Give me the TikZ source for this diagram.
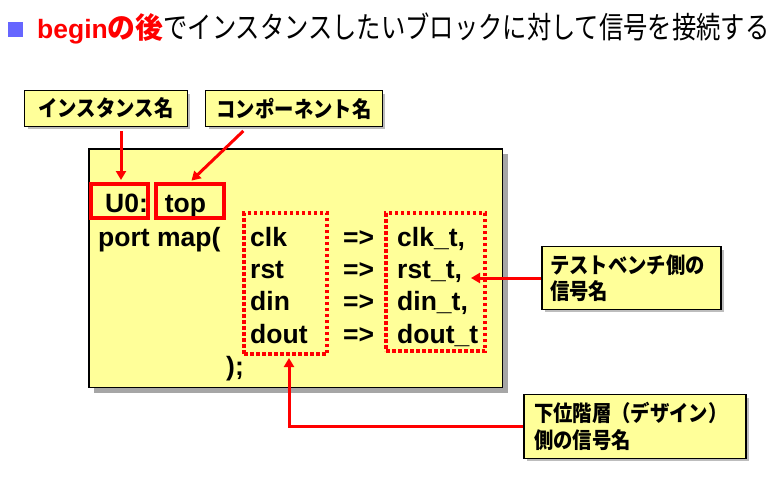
\documentclass[tikz,border=0pt]{standalone}
\usepackage{fontspec}
\usepackage{graphicx}
\usetikzlibrary{arrows.meta,shadows}
\newfontfamily\arial{Liberation Sans}
\newfontfamily\jp{Noto Sans CJK JP}
\newfontfamily\jplbl{Noto Sans CJK JP}[FakeStretch=0.88]
\newfontfamily\jptitle{Noto Sans CJK JP}[FakeStretch=0.81]
\newfontfamily\jpred{Noto Sans CJK JP}[FakeStretch=0.96]
\definecolor{paleyellow}{HTML}{FFFF99}
\definecolor{bulletblue}{HTML}{6666FF}
\definecolor{shadowgray}{HTML}{A6A6A6}
\definecolor{lightshadow}{HTML}{BDBDBD}
\definecolor{mred}{HTML}{FF0000}
\tikzset{
  lblbox/.style={draw=black, line width=1.3pt, fill=paleyellow, inner sep=0pt,
    font=\jplbl\bfseries\fontsize{22}{26.5}\selectfont,
    drop shadow={shadow xshift=3pt, shadow yshift=-3pt, fill=lightshadow, opacity=1}},
  mainbox/.style={draw=black, line width=1.5pt, fill=paleyellow, inner sep=0pt,
    drop shadow={shadow xshift=5.5pt, shadow yshift=-5.5pt, fill=shadowgray, opacity=1}},
  redbox/.style={draw=mred, line width=4pt, inner sep=0pt},
  dotbox/.style={draw=mred, line width=3.5pt, dash pattern=on 3.5pt off 2.5pt, inner sep=0pt},
  codetext/.style={anchor=base west, inner sep=0pt, font=\arial\bfseries\fontsize{26.5}{32}\selectfont},
  redarrow/.style={draw=mred, line width=3pt, -{Triangle[length=9pt,width=10pt]}},
}
\begin{document}
\begin{tikzpicture}[x=1pt,y=-1pt]
\useasboundingbox (0,0) rectangle (778,484);
% title
\node[fill=bulletblue, minimum size=15pt, inner sep=0pt] (bullet) at (15,29.5) {};
\node[anchor=base west, inner sep=0pt] (title) at (37,39)
  {{\color{mred}\arial\bfseries\fontsize{26.5}{32}\selectfont begin}%
   {\color{mred}\jpred\bfseries\fontsize{29}{32}\selectfont の後}%
   {\jptitle\fontsize{30}{32}\selectfont でインスタンスしたいブロックに対して信号を接続する}};
% label boxes
\node[lblbox, minimum width=162.7pt, minimum height=35.7pt] (lbl1) at (106,108.5) {インスタンス名};
\node[lblbox, minimum width=176.7pt, minimum height=35.7pt] (lbl2) at (294,108.5) {コンポーネント名};
% main box
\node[mainbox, minimum width=413.5pt, minimum height=238.5pt] (main) at (295.5,268) {};
% code text
\node[codetext] (u0) at (105,212.7) {U0:};
\node[codetext] (top) at (164.7,212.7) {top};
\node[codetext] (pm) at (98,246) {port map(};
\node[codetext] (s1) at (250,246) {clk};
\node[codetext] (s2) at (250,278.3) {rst};
\node[codetext] (s3) at (250,310.6) {din};
\node[codetext] (s4) at (250,343) {dout};
\node[codetext] (g1) at (343,246) {=>};
\node[codetext] (g2) at (343,278.3) {=>};
\node[codetext] (g3) at (343,310.6) {=>};
\node[codetext] (g4) at (343,343) {=>};
\node[codetext] (t1) at (397,246) {clk\_t,};
\node[codetext] (t2) at (397,278.3) {rst\_t,};
\node[codetext] (t3) at (397,310.6) {din\_t,};
\node[codetext] (t4) at (397,343) {dout\_t};
\node[codetext] (close) at (226,375.5) {);};
% red frames
\node[redbox, minimum width=56.5pt, minimum height=34pt] (u0box) at (119.25,201) {};
\node[redbox, minimum width=68pt, minimum height=34pt] (topbox) at (190,201) {};
\node[dotbox, minimum width=83pt, minimum height=141pt] (dot1) at (285.5,283.5) {};
\node[dotbox, minimum width=99pt, minimum height=138pt] (dot2) at (435.5,282) {};
% right label boxes
\node[lblbox, minimum height=62.7pt, inner xsep=8pt, text width=163pt, align=left] (lbl3) at (631.5,278)
  {テストベンチ側の\\信号名};
\node[lblbox, minimum height=63.7pt, inner xsep=10pt, text width=202pt, align=left] (lbl4) at (635,426.5)
  {下位階層（デザイン）\\側の信号名};
% connectors
\coordinate (a1s) at (121,131);
\coordinate (a2s) at (243.3,131);
\coordinate (a3e) at (471,278);
\coordinate (a4e) at (289,358);
\draw[redarrow, shorten >=2pt] (a1s) -- (a1s |- u0box.north);
\draw[redarrow, shorten >=2pt] (a2s) -- (topbox.north);
\draw[redarrow] (lbl3.west) -- (a3e);
\draw[redarrow] (lbl4.west) -| (a4e);
\end{tikzpicture}
\end{document}
